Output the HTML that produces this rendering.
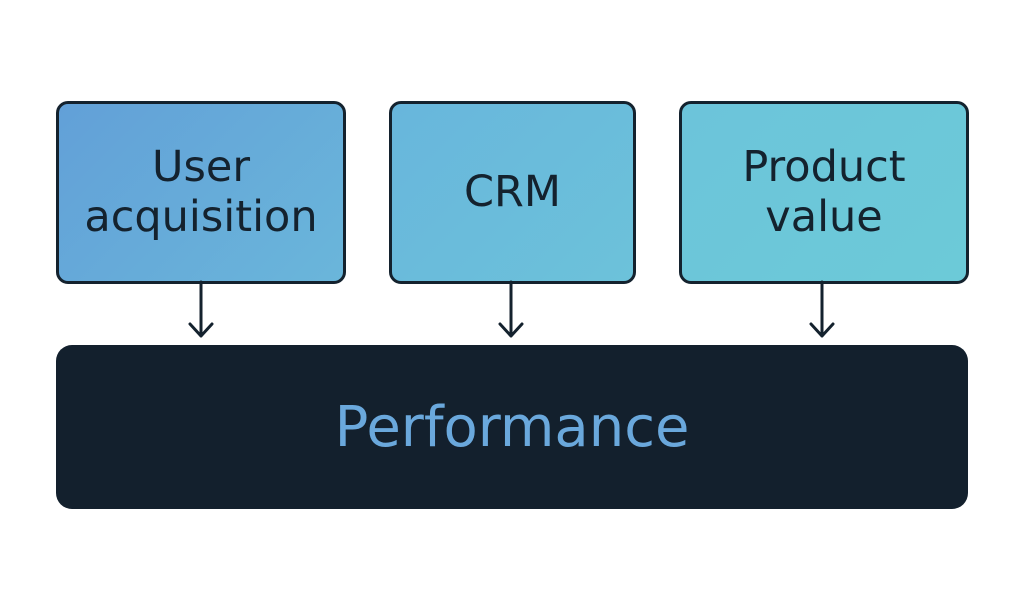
<!DOCTYPE html>
<html><head><style>
body{margin:0;width:1024px;height:616px;background:#fff;position:relative;overflow:hidden;font-family:"DejaVu Sans","Liberation Sans",sans-serif}
.b{position:absolute;top:101px;height:177px;border:3px solid #14222e;border-radius:12px;display:flex;align-items:center;justify-content:center;text-align:center;color:#14222e;font-size:43px;line-height:50px;padding-bottom:2px;box-sizing:content-box}
#p{position:absolute;left:56px;top:345px;width:912px;height:164px;background:#13202d;border-radius:16px;color:#6aa8dc;font-size:56px;display:flex;align-items:center;justify-content:center}
</style></head><body>
<div class="b" style="left:56px;width:284px;height:175px;background:linear-gradient(135deg,#62a0d8,#6ab6da)">User<br>acquisition</div>
<div class="b" style="left:389px;width:241px;height:175px;background:linear-gradient(135deg,#68b6dc,#6cc2da)">CRM</div>
<div class="b" style="left:679px;width:284px;height:175px;background:linear-gradient(135deg,#6cc4da,#6ccad8)">Product<br>value</div>
<div id="p">Performance</div>
<svg width="1024" height="616" style="position:absolute;left:0;top:0" fill="none" stroke="#14222e" stroke-width="3" stroke-linecap="round" stroke-linejoin="round">
<path d="M201 282V336M190 324L201 336L212 324"/>
<path d="M511 282V336M500 324L511 336L522 324"/>
<path d="M822 282V336M811 324L822 336L833 324"/>
</svg>
</body></html>
